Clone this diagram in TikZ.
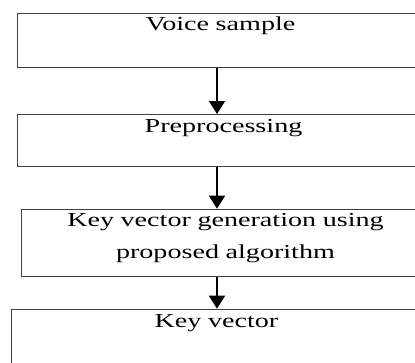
\documentclass[tikz,border=0pt]{standalone}
\usepackage{fontspec}
\setmainfont{Liberation Serif}[FakeStretch=1.42]
\usetikzlibrary{arrows.meta}
\begin{document}
\begin{tikzpicture}[x=1pt, y=-1pt,
  stage/.style={draw=black!75, line width=1pt, anchor=north west,
    inner xsep=0pt, inner ysep=0pt, align=center,
    font=\fontsize{19.8}{32}\selectfont},
  flow/.style={-{Triangle[width=16pt, length=13pt]}, line width=1.5pt}]
  \useasboundingbox (0,0) rectangle (415,362);
  \clip (0,0) rectangle (415,362);
  \coordinate (axis) at (217,0);
  \node[stage, text width=406pt, text height=17pt, text depth=36.5pt]
    (voice) at (17,13) {Voice sample};
  \node[stage, text width=412pt, text height=18pt, text depth=33.7pt]
    (prep) at (17,114) {Preprocessing};
  \node[stage, text width=408pt, text height=17.3pt, text depth=49.7pt]
    (keygen) at (21,208.7) {Key vector generation using\\proposed algorithm};
  \node[stage, text width=410pt, text height=18pt, text depth=53pt]
    (keyvec) at (11,308.7) {Key vector};
  \draw[flow] (voice.south -| axis) -- (prep.north -| axis);
  \draw[flow] (prep.south -| axis) -- (keygen.north -| axis);
  \draw[flow] (keygen.south -| axis) -- (keyvec.north -| axis);
\end{tikzpicture}
\end{document}
